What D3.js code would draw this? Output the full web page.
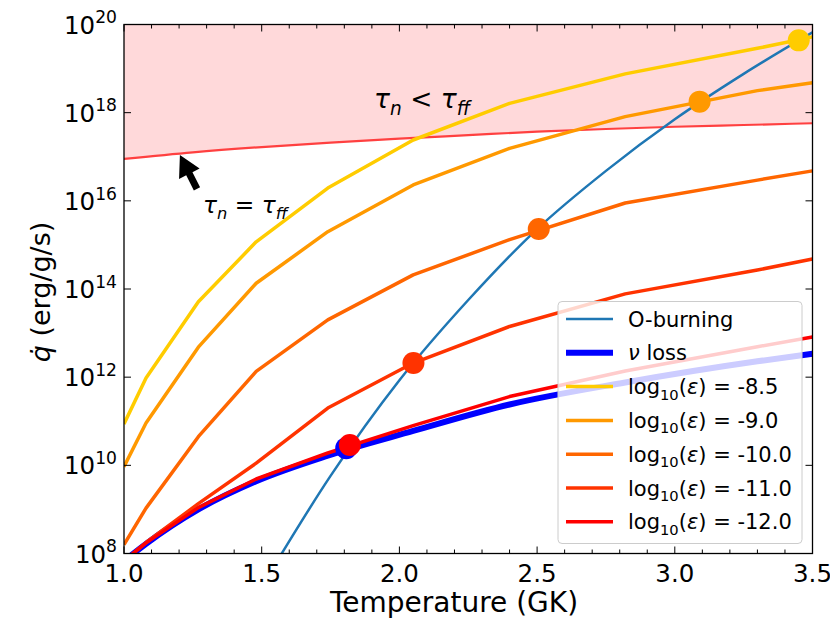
<!DOCTYPE html>
<html lang="en">
<head>
<meta charset="UTF-8" />
<title>Heating rate vs temperature</title>
<script src="https://d3js.org/d3.v7.min.js"></script>
<style>
  body { margin: 0; background: #fff; }
  svg { display: block; font-family: 'DejaVu Sans', sans-serif; }
</style>
</head>
<body>
<div id="chart"></div>
<script>
// temperature grid (GK) of the epsilon curves and the neutrino loss
const temps = [1.0, 1.08, 1.27, 1.48, 1.74, 2.05, 2.40, 2.82, 3.30, 3.5];

// log10(q) of each log10(eps) curve on that grid
const epsLabels = ['-8.5', '-9.0', '-10.0', '-11.0', '-12.0'];
const epsColors = ['#ffcc00', '#ff9900', '#ff6600', '#ff3300', '#ff0000'];
const eps85 = [10.94, 11.98, 13.71, 15.07, 16.29, 17.38, 18.21, 18.88, 19.46, 19.72];
const eps90 = [9.97, 10.96, 12.68, 14.13, 15.30, 16.36, 17.19, 17.91, 18.50, 18.68];
const eps100 = [8.20, 9.03, 10.65, 12.13, 13.30, 14.32, 15.12, 15.95, 16.47, 16.68];
const eps110 = [7.83, 8.25, 9.13, 10.05, 11.30, 12.32, 13.15, 13.89, 14.43, 14.68];
const eps120 = [7.83, 8.24, 9.04, 9.69, 10.28, 10.90, 11.56, 12.14, 12.69, 12.91];
const nuLoss = [7.83, 8.22, 9.00, 9.64, 10.22, 10.78, 11.38, 11.88, 12.36, 12.53];

// O-burning
const burnTemps = [1.5, 1.75, 2.0, 2.25, 2.5, 2.75, 3.0, 3.25, 3.5];
const burnLogQ = [7.25, 9.76, 11.93, 13.75, 15.36, 16.68, 17.85, 18.88, 19.82];

// tau_n = tau_ff boundary
const tauTemps = [1.0, 1.25, 1.5, 1.75, 2.0, 2.25, 2.5, 2.75, 3.0, 3.25, 3.5];
const tauLogQ = [16.95, 17.10, 17.22, 17.32, 17.41, 17.49, 17.57, 17.63, 17.68, 17.72, 17.76];

// where each curve meets O-burning
const crossT = [3.45, 3.09, 2.506, 2.051, 1.82];
const crossLogQ = [19.64, 18.25, 15.36, 12.32, 10.46];
const nuCross = [1.807, 10.39];

// arrow of the tau_n = tau_ff note: tip then tail (T, log q)
const arrowTip = [1.203, 17.04];
const arrowTail = [1.265, 16.27];

const xTicks = [1.0, 1.5, 2.0, 2.5, 3.0, 3.5];
const yTickExps = [8, 10, 12, 14, 16, 18, 20];

const W = 830, H = 623;
const box = { left: 124, right: 812.5, top: 24.5, bottom: 553.5 };

const svg = d3.select('#chart').append('svg').attr('width', W).attr('height', H);

const x = d3.scaleLinear().domain([1.0, 3.5]).range([box.left, box.right]);
const y = d3.scaleLog().domain([1e8, 1e20]).range([box.bottom, box.top]);

svg.append('clipPath').attr('id', 'plot-clip')
  .append('rect').attr('x', box.left).attr('y', box.top)
  .attr('width', box.right - box.left).attr('height', box.bottom - box.top);

const plot = svg.append('g').attr('clip-path', 'url(#plot-clip)');

const pts = (ts, lq) => ts.map((t, i) => [t, Math.pow(10, lq[i])]);

// shaded tau_n < tau_ff region
const area = d3.area()
  .x((d) => x(d[0]))
  .y0(y(1e20) - 5)
  .y1((d) => y(d[1]))
  .curve(d3.curveMonotoneX);
plot.append('path').datum(pts(tauTemps, tauLogQ))
  .attr('d', area).attr('fill', '#ffd9da');

const smooth = d3.line().x((d) => x(d[0])).y((d) => y(d[1])).curve(d3.curveMonotoneX);
const straight = d3.line().x((d) => x(d[0])).y((d) => y(d[1]));

plot.append('path').datum(pts(tauTemps, tauLogQ))
  .attr('d', smooth).attr('fill', 'none')
  .attr('stroke', '#ff4040').attr('stroke-width', 2.2);

plot.append('path').datum(pts(burnTemps, burnLogQ))
  .attr('d', smooth).attr('fill', 'none')
  .attr('stroke', '#1f77b4').attr('stroke-width', 2.5);

plot.append('path').datum(pts(temps, nuLoss))
  .attr('d', smooth).attr('fill', 'none')
  .attr('stroke', '#0000ff').attr('stroke-width', 6);

const epsSeries = [eps85, eps90, eps100, eps110, eps120];
epsSeries.forEach((s, i) => {
  plot.append('path').datum(pts(temps, s))
    .attr('d', straight).attr('fill', 'none')
    .attr('stroke', epsColors[i]).attr('stroke-width', 3.5)
    .attr('stroke-linejoin', 'round');
});

plot.append('circle')
  .attr('cx', x(nuCross[0])).attr('cy', y(Math.pow(10, nuCross[1])))
  .attr('r', 11).attr('fill', '#0000ff');

plot.selectAll('.cross')
  .data(crossT)
  .join('circle')
  .attr('class', 'cross')
  .attr('cx', (d) => x(d))
  .attr('cy', (d, i) => y(Math.pow(10, crossLogQ[i])))
  .attr('r', 11)
  .attr('fill', (d, i) => epsColors[i]);

// write text runs with sub/superscripts
function addRuns(text, runs, size) {
  let shift = 0;
  runs.forEach((r) => {
    const target = r.sub ? size * 0.26 : r.sup ? -size * 0.42 : 0;
    text.append('tspan')
      .attr('dy', target - shift)
      .style('font-size', (r.sub || r.sup ? size * 0.7 : size) + 'px')
      .style('font-style', r.it ? 'italic' : 'normal')
      .text(r.t);
    shift = target;
  });
}

// annotations
const noteA = svg.append('text').attr('x', 374).attr('y', 108).style('font-size', '26px');
addRuns(noteA, [
  { t: 'τ', it: true }, { t: 'n', it: true, sub: true }, { t: ' < ' },
  { t: 'τ', it: true }, { t: 'ff', it: true, sub: true }
], 26.5);

const noteB = svg.append('text').attr('x', 203).attr('y', 213).style('font-size', '23px');
addRuns(noteB, [
  { t: 'τ', it: true }, { t: 'n', it: true, sub: true }, { t: ' = ' },
  { t: 'τ', it: true }, { t: 'ff', it: true, sub: true }
], 23.3);

// arrow polygon
(function drawArrow() {
  const tx = x(arrowTip[0]), ty = y(Math.pow(10, arrowTip[1]));
  const sx = x(arrowTail[0]), sy = y(Math.pow(10, arrowTail[1]));
  const len = Math.hypot(tx - sx, ty - sy);
  const ux = (tx - sx) / len, uy = (ty - sy) / len;
  const px = -uy, py = ux;
  const headLen = 21, headW = 11.5, shaftW = 3.5;
  const bx = tx - ux * headLen, by = ty - uy * headLen;
  const p = [
    [sx + px * shaftW, sy + py * shaftW],
    [bx + px * shaftW, by + py * shaftW],
    [bx + px * headW, by + py * headW],
    [tx, ty],
    [bx - px * headW, by - py * headW],
    [bx - px * shaftW, by - py * shaftW],
    [sx - px * shaftW, sy - py * shaftW]
  ];
  svg.append('path').attr('d', d3.line()(p) + 'Z').attr('fill', '#000');
})();

// axes ticks (inward, all four sides)
const ticks = svg.append('g').attr('stroke', '#000').attr('stroke-width', 1);
const minorX = d3.range(10, 36).map((d) => d / 10);
minorX.forEach((t) => {
  const major = Math.abs(t * 2 - Math.round(t * 2)) < 1e-6;
  const len = major ? 7 : 4;
  ticks.append('line').attr('x1', x(t)).attr('x2', x(t)).attr('y1', box.bottom).attr('y2', box.bottom - len);
  ticks.append('line').attr('x1', x(t)).attr('x2', x(t)).attr('y1', box.top).attr('y2', box.top + len);
});
yTickExps.forEach((e) => {
  const yy = y(Math.pow(10, e));
  ticks.append('line').attr('x1', box.left).attr('x2', box.left + 7).attr('y1', yy).attr('y2', yy);
  ticks.append('line').attr('x1', box.right).attr('x2', box.right - 7).attr('y1', yy).attr('y2', yy);
});

svg.append('rect').attr('x', box.left).attr('y', box.top)
  .attr('width', box.right - box.left).attr('height', box.bottom - box.top)
  .attr('fill', 'none').attr('stroke', '#000').attr('stroke-width', 1.3);

// tick labels
svg.selectAll('.xlab').data(xTicks).join('text')
  .attr('class', 'xlab')
  .attr('x', (d) => x(d)).attr('y', 582)
  .attr('text-anchor', 'middle').style('font-size', '24.5px')
  .text((d) => d.toFixed(1));

yTickExps.forEach((e) => {
  const t = svg.append('text').attr('x', 117).attr('y', y(Math.pow(10, e)) + 9)
    .attr('text-anchor', 'end').style('font-size', '24.5px');
  addRuns(t, [{ t: '10' }, { t: String(e), sup: true }], 24.5);
});

svg.append('text').attr('x', 454).attr('y', 612)
  .attr('text-anchor', 'middle').style('font-size', '28px')
  .text('Temperature (GK)');

const ylab = svg.append('text')
  .attr('transform', 'translate(50,292) rotate(-90)')
  .attr('text-anchor', 'middle').style('font-size', '27px');
ylab.append('tspan').style('font-style', 'italic').text('q\u0307');
ylab.append('tspan').text(' (erg/g/s)');

// legend
const legend = svg.append('g');
legend.append('rect')
  .attr('x', 558).attr('y', 301.5).attr('width', 244).attr('height', 242)
  .attr('rx', 4).attr('fill', '#fff').attr('fill-opacity', 0.8)
  .attr('stroke', '#cccccc').attr('stroke-width', 1);

const legendItems = [
  { color: '#1f77b4', width: 2.5, runs: [{ t: 'O-burning' }] },
  { color: '#0000ff', width: 6, runs: [{ t: 'ν', it: true }, { t: ' loss' }] }
].concat(epsLabels.map((lab, i) => ({
  color: epsColors[i], width: 3.5,
  runs: [{ t: 'log' }, { t: '10', sub: true }, { t: '(' }, { t: 'ε', it: true }, { t: ') = ' + lab }]
})));

legendItems.forEach((item, i) => {
  const cy = 319 + i * 33.8;
  legend.append('line').attr('x1', 566).attr('x2', 613).attr('y1', cy).attr('y2', cy)
    .attr('stroke', item.color).attr('stroke-width', item.width);
  const t = legend.append('text').attr('x', 628).attr('y', cy + 7.5).style('font-size', '21px');
  addRuns(t, item.runs, 21);
});
</script>
</body>
</html>
